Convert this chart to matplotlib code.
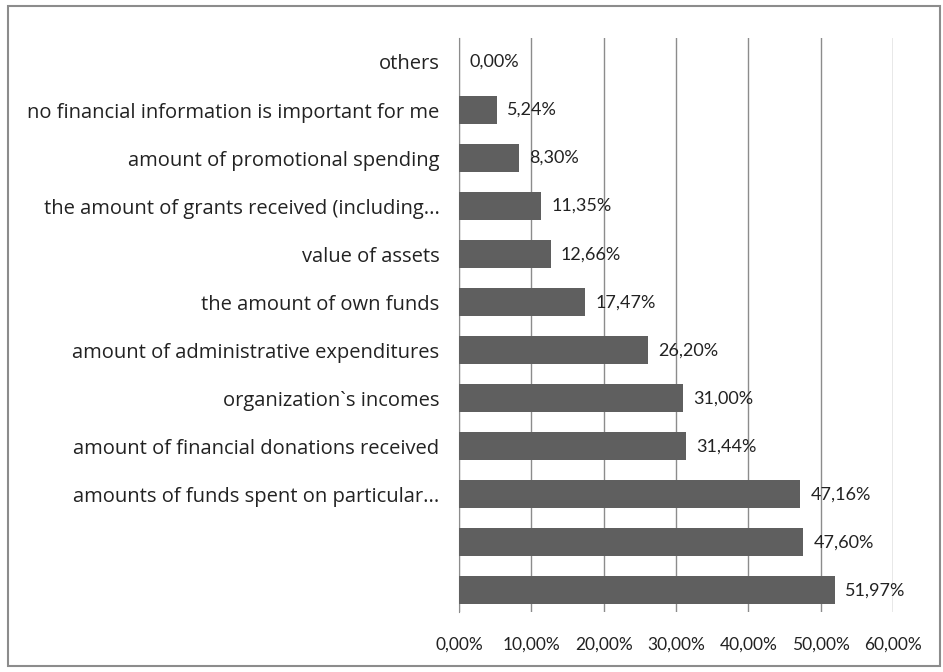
import matplotlib.pyplot as plt
from matplotlib.patches import Rectangle

# categories top to bottom (last two have no label in the source)
categories = ["others",
              "no financial information is important for me",
              "amount of promotional spending",
              "the amount of grants received (including...",
              "value of assets",
              "the amount of own funds",
              "amount of administrative expenditures",
              "organization`s incomes",
              "amount of financial donations received",
              "amounts of funds spent on particular...",
              "",
              ""]
values = [0.00, 5.24, 8.30, 11.35, 12.66, 17.47, 26.20, 31.00, 31.44, 47.16, 47.60, 51.97]
x_ticks = [0, 10, 20, 30, 40, 50, 60]
x_tick_labels = ["0,00%", "10,00%", "20,00%", "30,00%", "40,00%", "50,00%", "60,00%"]

plt.rcParams['font.family'] = ['Lato', 'DejaVu Sans']

fig = plt.figure(figsize=(9.43, 6.72), dpi=100)
ax = fig.add_axes([0.4867, 0.0893, 0.4603, 0.8542])

n = len(values)
ypos = list(range(n - 1, -1, -1))
ax.barh(ypos, values, height=0.58, color='#5f5f5f', zorder=3)

for y, v in zip(ypos, values):
    ax.text(v + 1.4, y, f"{v:.2f}%".replace('.', ','), va='center', ha='left',
            fontsize=13, color='#222222', zorder=4)

ax.set_xlim(0, 60)
ax.set_ylim(-0.45, n - 0.5)
ax.set_yticks(ypos)
ax.set_yticklabels(categories, fontsize=14.5, color='#222222', family=['Open Sans', 'DejaVu Sans'])
ax.set_xticks(x_ticks)
ax.set_xticklabels(x_tick_labels, fontsize=12.5, color='#222222')
ax.tick_params(axis='y', length=0, pad=14)
ax.tick_params(axis='x', length=0, pad=18)
ax.grid(axis='x', color='#8c8c8c', linewidth=1, zorder=0)

for s in ['top', 'right', 'bottom']:
    ax.spines[s].set_visible(False)
ax.spines['left'].set_color('#8c8c8c')

# outer border of the chart area
fig.patches.append(Rectangle((8 / 943, 6 / 672), 932 / 943, 660 / 672, transform=fig.transFigure,
                             fill=False, edgecolor='#8c8c8c', linewidth=1.5))

fig.savefig('out.png', dpi=100)
